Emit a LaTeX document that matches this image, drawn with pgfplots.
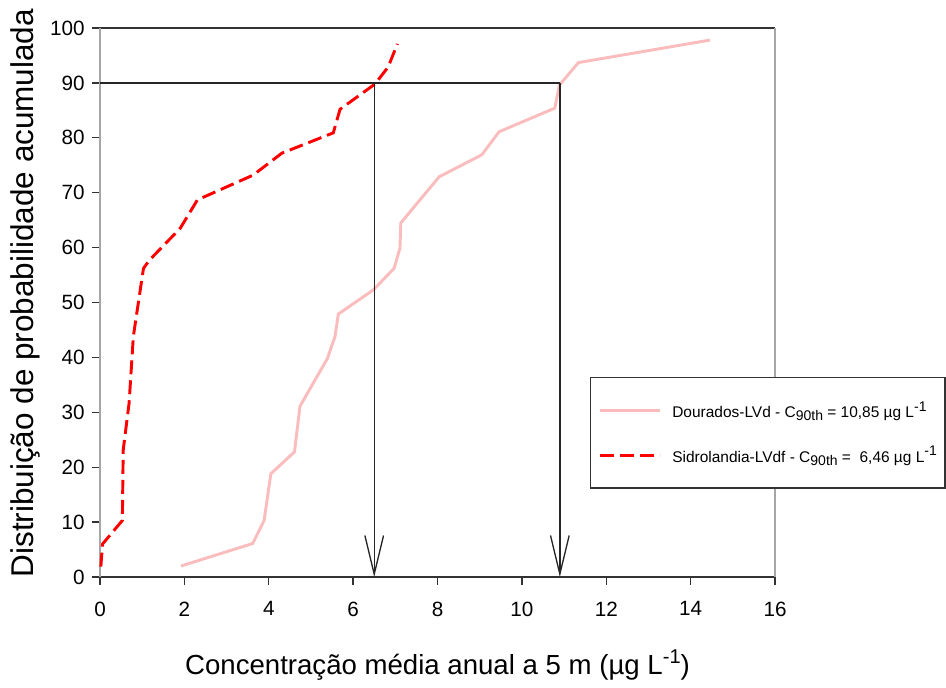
\documentclass[border=0pt]{standalone}
\usepackage{fontspec}
\setmainfont{Liberation Sans}
\usepackage{pgfplots}
\usepackage{pgfplotstable}
\pgfplotsset{compat=1.18}
\usetikzlibrary{arrows.meta}
\definecolor{pinkline}{RGB}{250,188,188}
\definecolor{redline}{RGB}{255,0,0}
\newcommand{\lsub}[1]{\raisebox{-0.4ex}{\fontsize{10.5}{11}\selectfont #1}}
\newcommand{\lsup}[1]{\raisebox{0.75ex}{\fontsize{10.5}{11}\selectfont #1}}

\pgfplotstableread{
x y
1.92 2.0
3.62 6.1
3.89 10.3
4.05 18.8
4.61 22.8
4.74 31.1
5.39 39.8
5.57 43.8
5.65 47.9
6.48 52.3
6.97 56.2
7.11 59.9
7.13 64.5
8.04 72.9
9.05 76.9
9.46 81.1
10.78 85.4
10.89 89.6
11.34 93.7
14.46 97.8
}\dourados

\pgfplotstableread{
x y
0.02 1.9
0.06 6.0
0.53 10.3
0.55 23.1
0.69 31.7
0.79 43.8
1.03 56.2
1.17 57.7
1.90 63.5
2.31 68.7
3.63 73.2
4.31 77.2
5.53 80.9
5.69 85.2
6.52 89.8
6.83 92.9
7.05 97.1
}\sidrolandia

\begin{document}
\begin{tikzpicture}
\path (-75pt,-83.25pt) rectangle (634.5pt,432.75pt);
\begin{axis}[
  scale only axis, width=506.25pt, height=411.75pt,
  xmin=0, xmax=16, ymin=0, ymax=100,
  xtick={0,2,...,16}, ytick={0,10,...,100},
  tick align=outside, major tick length=6pt,
  xtick pos=bottom, ytick pos=left,
  separate axis lines,
  x axis line style={black!80, line width=1pt},
  y axis line style={black!35, line width=1pt},
  tick style={black!80, line width=1pt},
  ticklabel style={font=\fontsize{15.5}{17}\selectfont},
  xticklabel style={yshift=-9pt},
  yticklabel style={xshift=-2pt},
  /pgf/number format/assume math mode=true,
  clip=false,
  legend style={at={(axis description cs:0.726,0.364)}, anchor=north west,
    draw=black!80, line width=1pt, inner xsep=6pt, inner ysep=16pt,
    row sep=16pt, column sep=0pt, font=\fontsize{11.6}{13}\selectfont,
    nodes={inner xsep=0pt}},
  legend cell align=left,
  legend image code/.code={\draw[#1] (0pt,0pt) -- (45pt,0pt);},
]
\addplot[pinkline, line width=2.2pt] table {\dourados};
\addlegendentry{\hspace*{8pt}Dourados-LVd - C\lsub{90th} = 10,85 µg L\lsup{-1}}
\addplot[redline, line width=2.2pt, dash pattern=on 10.5pt off 4.5pt] table {\sidrolandia};
\addlegendentry{\hspace*{8pt}Sidrolandia-LVdf - C\lsub{90th} =\ \ 6,46 µg L\lsup{-1}}
\draw[black!85, line width=1pt] (axis cs:0,90) -- (axis cs:10.9,90);
\draw[black!85, line width=1pt, -{Straight Barb[length=29pt,width=14pt]}] (axis cs:6.5,90) -- (axis cs:6.5,0);
\draw[black!85, line width=1pt, -{Straight Barb[length=29pt,width=14pt]}] (axis cs:10.9,90) -- (axis cs:10.9,0);
\path (rel axis cs:0.5,0) ++(0pt,-73.5pt) node[anchor=base, inner sep=0pt, font=\fontsize{20.7}{24}\selectfont] {Concentração média anual a 5 m (µg L\raisebox{0.8ex}{\fontsize{15}{16}\selectfont -1})};
\path (rel axis cs:0,0.517) ++(-50pt,0pt) node[anchor=base, inner sep=0pt, rotate=90, font=\fontsize{23.6}{26}\selectfont] {Distribuição de probabilidade acumulada};
\end{axis}
\end{tikzpicture}
\end{document}
